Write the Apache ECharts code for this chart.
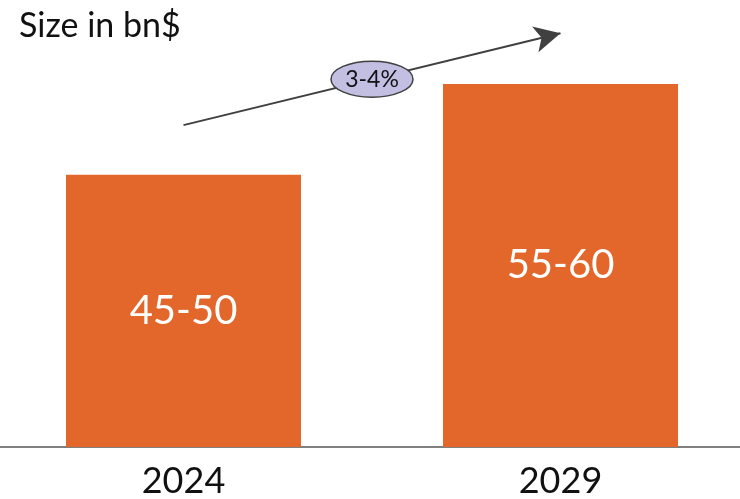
<!DOCTYPE html>
<html>
<head>
<meta charset="utf-8">
<script src="https://cdn.jsdelivr.net/npm/echarts@6/dist/echarts.min.js"></script>
<style>
  html, body { margin: 0; padding: 0; background: #fff; }
  #chart { width: 740px; height: 499px; }
</style>
</head>
<body>
<div id="chart"></div>
<script>
// data
const years = ['2024', '2029'];
const barValues = [45, 60];          // bar heights (bn$)
const rangeLabels = ['45-50', '55-60'];
const growthLabel = '3-4%';
const arrowStart = 53.2;              // y value where arrow starts (at 2024)
const arrowEnd = 68.4;                // y value where arrow ends (at 2029)

const barColor = '#E3672B';
const font = 'Lato';

const chart = echarts.init(document.getElementById('chart'));
chart.setOption({
  animation: false,
  title: {
    text: 'Size in bn$',
    left: 14, top: 4,
    textStyle: { fontFamily: font, fontSize: 34, fontWeight: 'normal', color: '#111' }
  },
  grid: { left: -5, right: -9, top: 23.5, bottom: 52, outerBoundsMode: 'none' },
  xAxis: {
    type: 'category',
    data: years,
    axisLine: { lineStyle: { color: '#808080', width: 2 } },
    axisTick: { show: false },
    axisLabel: { fontFamily: font, fontSize: 36, color: '#111', margin: 16 }
  },
  yAxis: {
    type: 'value', min: 0, max: 70,
    show: false, splitLine: { show: false }
  },
  series: [{
    type: 'bar',
    data: barValues,
    barWidth: 235,
    itemStyle: { color: barColor },
    label: {
      show: true, position: 'inside',
      formatter: p => rangeLabels[p.dataIndex],
      fontFamily: font, fontSize: 40, color: '#fff'
    },
    markLine: {
      silent: true,
      symbol: ['none', 'arrow'],
      symbolSize: [20, 26],
      label: { show: false },
      lineStyle: { color: '#404040', width: 2, type: 'solid' },
      data: [[{ coord: [years[0], arrowStart] }, { coord: [years[1], arrowEnd] }]]
    }
  }]
});

// ellipse with growth label sits at the middle of the arrow
const p0 = chart.convertToPixel({ gridIndex: 0 }, [years[0], arrowStart]);
const p1 = chart.convertToPixel({ gridIndex: 0 }, [years[1], arrowEnd]);
const cx = (p0[0] + p1[0]) / 2, cy = (p0[1] + p1[1]) / 2;
chart.setOption({
  graphic: [{
    type: 'ellipse',
    shape: { cx: cx, cy: cy, rx: 41, ry: 18 },
    style: { fill: '#C2BFE2', stroke: '#404040', lineWidth: 1.5 },
    z: 100
  }, {
    type: 'text',
    x: cx, y: cy,
    style: {
      text: growthLabel, align: 'center', verticalAlign: 'middle',
      fontFamily: font, fontSize: 23, fill: '#111'
    },
    z: 101
  }]
});
</script>
</body>
</html>
